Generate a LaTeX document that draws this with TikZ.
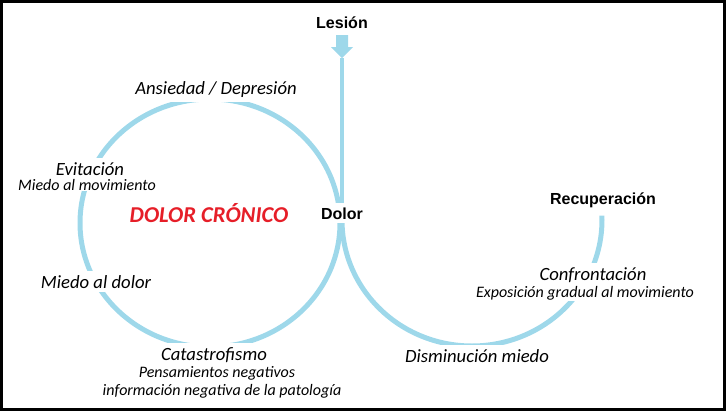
\documentclass[tikz,border=0pt]{standalone}
\usepackage{fontspec}
\setmainfont{Carlito}
\newfontfamily\headfont{Liberation Sans}
\usepackage{xcolor}
\usepackage{tikz}
\definecolor{ringblue}{RGB}{158,216,234}
\definecolor{chronred}{RGB}{230,30,40}

\begin{document}
\begin{tikzpicture}[x=0.75pt, y=-0.75pt,
  ring/.style={draw=ringblue, line width=3.75pt},
  mainlab/.style={fill=white, inner sep=3pt, anchor=base, font=\fontsize{14}{16}\selectfont\itshape},
  sublab/.style={fill=white, inner sep=1pt, anchor=base, font=\fontsize{12}{14}\selectfont\itshape},
  headlab/.style={fill=white, inner sep=3pt, anchor=base, font=\fontsize{12}{14}\selectfont\headfont\bfseries}]
\useasboundingbox (0,0) rectangle (726,411);
\draw[line width=2.25pt] (1.5,1.5) rectangle (724.5,409.5);
% the two loops
\draw[ring] (210,223) ellipse [x radius=97.5pt, y radius=93pt];
\draw[ring] (342,220) arc [start angle=180, end angle=362, x radius=97.5pt, y radius=94.5pt];
% block arrow below the injury
\fill[ringblue] (336,35) -- (348,35) -- (348,47) -- (353,47) -- (342,58) -- (331,47) -- (336,47) -- cycle;
\coordinate (tip) at (342,58);
\node[headlab] (lesion) at (342,28) {Lesión};
\node[headlab] (dolor) at (342,219) {Dolor};
\node[headlab] (recup) at (603,204) {Recuperación};
\node[mainlab] (ansiedad) at (216,94.5) {Ansiedad / Depresión};
\node[mainlab] (evitacion) at (90,175) {Evitación};
\node[sublab] (miedomov) at (87,190) {Miedo al movimiento};
\node[anchor=base, text=chronred, font=\fontsize{17}{20}\selectfont\bfseries\itshape] (cronico) at (209,222) {DOLOR CRÓNICO};
\node[mainlab] (miedodolor) at (96,288) {Miedo al dolor};
\node[mainlab] (catas) at (214,360) {Catastrofismo};
\node[sublab] (pensam) at (217,377) {Pensamientos negativos};
\node[sublab] (informa) at (222,395) {información negativa de la patología};
\node[mainlab] (dismin) at (477,362) {Disminución miedo};
\node[mainlab] (confront) at (593,280) {Confrontación};
\node[sublab] (exposic) at (585,297) {Exposición gradual al movimiento};
\draw[ring, line width=3.5pt] (tip) -- (dolor);
\end{tikzpicture}
\end{document}
